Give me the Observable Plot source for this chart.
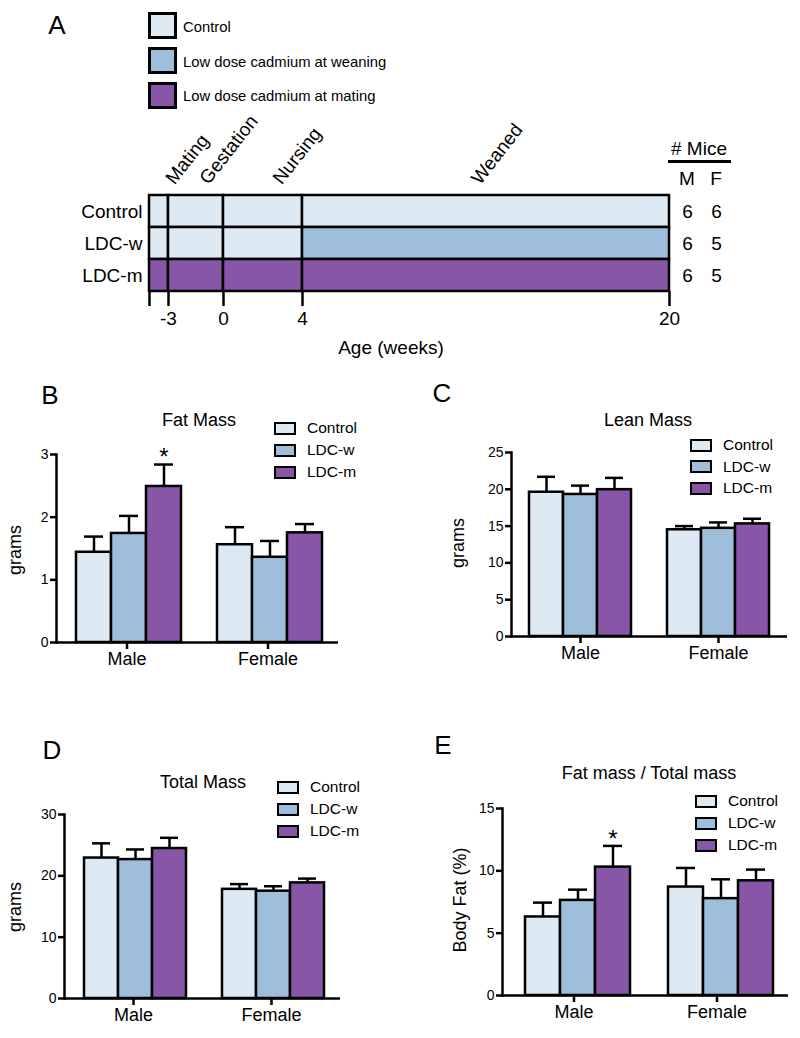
<!DOCTYPE html>
<html>
<head>
<meta charset="utf-8">
<script src="https://cdn.jsdelivr.net/npm/d3@7"></script>
<script src="https://cdn.jsdelivr.net/npm/@observablehq/plot@0.6"></script>
<style>
  html, body { margin: 0; padding: 0; background: #fff; }
  #root { position: relative; width: 800px; height: 1038px; overflow: hidden; background: #fff; }
  #root svg { position: absolute; overflow: visible; }
</style>
</head>
<body>
<div id="root"></div>
<script>
// ---------------- DATA ----------------
const groups = ["Control", "LDC-w", "LDC-m"];
const groupColors = ["#dde9f3", "#9ebedb", "#8756a6"];
const legendLabelsA = ["Control", "Low dose cadmium at weaning", "Low dose cadmium at mating"];

// Panel A: timeline
const phaseBounds = [-4, -3, 0, 4, 20];
const phaseTickLabels = ["", "-3", "0", "4", "20"];
const treatControl = ["Control", "Control", "Control", "Control"];
const treatLDCw = ["Control", "Control", "Control", "LDC-w"];
const treatLDCm = ["LDC-m", "LDC-m", "LDC-m", "LDC-m"];
const phaseNames = ["Mating", "Gestation", "Nursing", "Weaned"];
const phaseLabelWeek = [-3.1, -1.25, 2.55, 11.4];
const miceM = [6, 6, 6];
const miceF = [6, 5, 5];

// Panels B-E: bars (order: Male Control, LDC-w, LDC-m, Female Control, LDC-w, LDC-m)
const sexes = ["Male", "Female"];
const fatMean = [1.44, 1.74, 2.49, 1.56, 1.36, 1.75];
const fatSem = [0.25, 0.28, 0.35, 0.28, 0.26, 0.14];
const leanMean = [19.6, 19.3, 19.95, 14.5, 14.7, 15.3];
const leanSem = [2.1, 1.2, 1.6, 0.5, 0.8, 0.7];
const totalMean = [22.9, 22.65, 24.45, 17.8, 17.5, 18.85];
const totalSem = [2.4, 1.65, 1.75, 0.85, 0.8, 0.7];
const pctMean = [6.3, 7.63, 10.3, 8.7, 7.77, 9.2];
const pctSem = [1.15, 0.86, 1.7, 1.53, 1.55, 0.9];
const fatTicks = [0, 1, 2, 3];
const leanTicks = [0, 5, 10, 15, 20, 25];
const totalTicks = [0, 10, 20, 30];
const pctTicks = [0, 5, 10, 15];

// ---------------- HELPERS ----------------
const FONT = '"Liberation Sans", Arial, Helvetica, sans-serif';
const root = document.getElementById("root");
const SW = 2.5;

function addText(txt, x, y, size, opt = {}) {
  const anchor = opt.anchor || "middle";
  const rot = opt.rotate || 0;
  const d = document.createElement("div");
  d.textContent = txt;
  const tx = anchor === "middle" ? "-50%" : anchor === "start" ? "0" : "-100%";
  d.style.cssText = `position:absolute;left:${x}px;top:${y}px;font-family:${FONT};font-size:${size}px;line-height:1;white-space:nowrap;color:#000;transform:translate(${tx},-50%) rotate(${rot}deg);`;
  root.appendChild(d);
  return d;
}
function addSwatch(x, y, w, h, color, bw) {
  const d = document.createElement("div");
  d.style.cssText = `position:absolute;left:${x}px;top:${y}px;width:${w}px;height:${h}px;box-sizing:border-box;border:${bw}px solid #000;background:${color};`;
  root.appendChild(d);
}
function place(svg, x0, y0) {
  svg.style.left = x0 + "px";
  svg.style.top = y0 + "px";
  root.appendChild(svg);
}
const colorScale = {domain: groups, range: groupColors};

// ---------------- PANEL A ----------------
addText("A", 57, 25, 26);
legendLabelsA.forEach((t, i) => {
  const cy = [25.5, 60.5, 95][i];
  addSwatch(148, cy - 13.5, 29, 27, groupColors[i], 3);
  addText(t, 183, cy + 1, 14.8, {anchor: "start"});
});

const treats = [treatControl, treatLDCw, treatLDCm];
const segments = groups.flatMap((g, r) =>
  treats[r].map((t, k) => ({row: g, start: phaseBounds[k], end: phaseBounds[k + 1], treat: t}))
);
const phases = phaseNames.map((n, i) => ({name: n, week: phaseLabelWeek[i]}));
const mice = groups.map((g, i) => ({row: g, m: miceM[i], f: miceF[i]}));

const A = Plot.plot({
  width: 800, height: 360,
  marginTop: 194, marginBottom: 69, marginLeft: 149, marginRight: 131,
  style: {fontFamily: FONT, color: "#000", background: "transparent", overflow: "visible"},
  x: {type: "linear", domain: phaseBounds, range: [149, 168, 223, 302, 669]},
  y: {type: "band", domain: groups, padding: 0},
  color: colorScale,
  marks: [
    Plot.barX(segments, {x1: "start", x2: "end", y: "row", fill: "treat", stroke: "#000", strokeWidth: 2.5}),
    Plot.axisY({tickSize: 0, tickPadding: 7, fontSize: 19, label: null}),
    Plot.axisX({ticks: phaseBounds, tickFormat: (d) => phaseTickLabels[phaseBounds.indexOf(d)], tickSize: 15, tickPadding: 5, fontSize: 19, strokeWidth: 2.5, label: null}),
    Plot.text(phases, {x: "week", text: "name", frameAnchor: "top", dx: 8, dy: -9, rotate: -52, textAnchor: "start", lineAnchor: "bottom", fontSize: 19}),
    Plot.text(mice, {y: "row", text: "m", frameAnchor: "right", textAnchor: "middle", dx: 18, fontSize: 19}),
    Plot.text(mice, {y: "row", text: "f", frameAnchor: "right", textAnchor: "middle", dx: 47, fontSize: 19})
  ]
});
place(A, 0, 0);

addText("# Mice", 699, 148, 19);
const ul = document.createElement("div");
ul.style.cssText = "position:absolute;left:668px;top:160px;width:63px;height:3px;background:#000;";
root.appendChild(ul);
addText("M", 687, 178, 19);
addText("F", 716, 178, 19);
addText("Age (weeks)", 391, 347, 19);

// ---------------- BAR PANELS ----------------
function barPanel(p) {
  const rows = sexes.flatMap((s, i) => groups.map((g, j) => ({
    sex: s, group: g, mean: p.mean[i * 3 + j], sem: p.sem[i * 3 + j], top: p.mean[i * 3 + j] + p.sem[i * 3 + j]
  })));
  const stars = rows.filter(d => p.star && d.sex === p.star[0] && d.group === p.star[1]);
  const chart = Plot.plot({
    width: p.w, height: p.h,
    marginLeft: p.left - p.x0, marginRight: p.x0 + p.w - p.right,
    marginTop: p.top - p.y0, marginBottom: p.y0 + p.h - p.bottom,
    style: {fontFamily: FONT, color: "#000", background: "transparent", overflow: "visible"},
    fx: {domain: sexes, padding: 0, label: null, axis: null},
    x: {domain: groups, paddingInner: 0, paddingOuter: p.pad, align: p.align, axis: null},
    y: {domain: [0, p.ticks[p.ticks.length - 1]], axis: null},
    color: colorScale,
    marks: [
      Plot.barY(rows, {fx: "sex", x: "group", y: "mean", fill: "group", stroke: "#000", strokeWidth: SW}),
      Plot.ruleX(rows, {fx: "sex", x: "group", y1: "mean", y2: "top", stroke: "#000", strokeWidth: SW}),
      Plot.tickY(rows, {fx: "sex", x: "group", y: "top", insetLeft: 8, insetRight: 8, stroke: "#000", strokeWidth: SW}),
      Plot.text(stars, {fx: "sex", x: "group", y: "top", text: () => "*", dy: -7, fontSize: 24}),
      Plot.ruleY([0], {stroke: "#000", strokeWidth: SW}),
      Plot.frame({anchor: "left", facetAnchor: "left", stroke: "#000", strokeWidth: SW}),
      Plot.axisY({ticks: p.ticks, tickFormat: (d) => String(d), tickSize: 6, tickPadding: 2, fontSize: 14, strokeWidth: SW, label: null}),
      Plot.axisFx({anchor: "bottom", tickSize: 7, tickPadding: 3, fontSize: 18, strokeWidth: SW, label: null})
    ]
  });
  place(chart, p.x0, p.y0);

  addText(p.letter, p.letterX, p.letterY, 26);
  addText(p.title, p.titleX, p.titleY, 18);
  groups.forEach((g, i) => {
    const cy = p.legY + i * p.legStep;
    addSwatch(p.legX, cy - 6.5, 22, 13, groupColors[i], 2.5);
    addText(g, p.legX + 33, cy, 15.5, {anchor: "start"});
  });
  addText(p.ylabel, p.ylabX, p.ylabY, 18, {rotate: -90});
}

barPanel({
  x0: 0, y0: 400, w: 400, h: 280, left: 55, right: 338, top: 454, bottom: 642,
  mean: fatMean, sem: fatSem, ticks: fatTicks, pad: 0.48, align: 0.55, star: ["Male", "LDC-m"],
  letter: "B", letterX: 50, letterY: 395, title: "Fat Mass", titleX: 199, titleY: 420,
  legX: 274, legY: 428, legStep: 22, ylabel: "grams", ylabX: 15, ylabY: 550
});
barPanel({
  x0: 400, y0: 400, w: 400, h: 280, left: 510, right: 787, top: 452, bottom: 636,
  mean: leanMean, sem: leanSem, ticks: leanTicks, pad: 0.48, align: 0.5, star: null,
  letter: "C", letterX: 442, letterY: 393, title: "Lean Mass", titleX: 648, titleY: 420,
  legX: 690, legY: 445, legStep: 21.5, ylabel: "grams", ylabX: 458, ylabY: 543
});
barPanel({
  x0: 0, y0: 760, w: 400, h: 278, left: 63, right: 340, top: 814, bottom: 998,
  mean: totalMean, sem: totalSem, ticks: totalTicks, pad: 0.5, align: 0.55, star: null,
  letter: "D", letterX: 52, letterY: 750, title: "Total Mass", titleX: 203, titleY: 782,
  legX: 277, legY: 787, legStep: 22, ylabel: "grams", ylabX: 15, ylabY: 907
});
barPanel({
  x0: 400, y0: 760, w: 400, h: 278, left: 502, right: 788, top: 808, bottom: 995,
  mean: pctMean, sem: pctSem, ticks: pctTicks, pad: 0.54, align: 0.6, star: ["Male", "LDC-m"],
  letter: "E", letterX: 443, letterY: 745, title: "Fat mass / Total mass", titleX: 649, titleY: 773,
  legX: 695, legY: 801, legStep: 22, ylabel: "Body Fat (%)", ylabX: 460, ylabY: 900
});
</script>
</body>
</html>
